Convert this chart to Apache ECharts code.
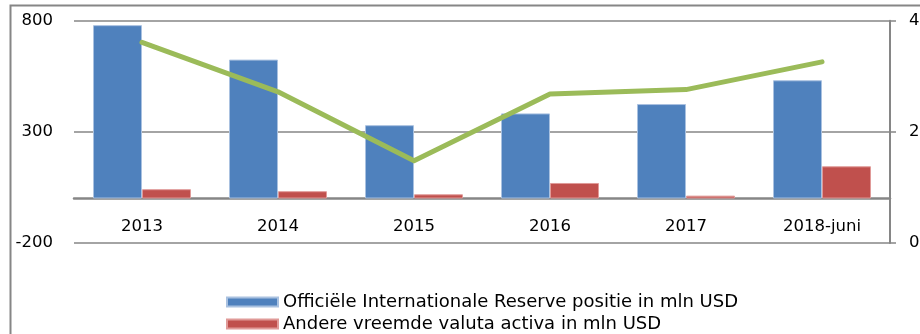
<!DOCTYPE html>
<html>
<head>
<meta charset="utf-8">
<script src="https://cdn.jsdelivr.net/npm/echarts@6/dist/echarts.min.js"></script>
<style>
  html, body { margin: 0; padding: 0; background: #ffffff; }
  #chart { width: 920px; height: 334px; }
</style>
</head>
<body>
<div id="chart"></div>
<script>
// Categories and series values
const categories = ['2013', '2014', '2015', '2016', '2017', '2018-juni'];
const reserveValues = [780, 625, 330, 383, 425, 532];
const otherAssetValues = [42, 33, 19, 70, 13, 145];
const importCoverValues = [3.61, 2.72, 1.48, 2.68, 2.76, 3.26];

const leftTicks = { min: -200, max: 800, interval: 500 };
const rightTicks = { min: 0, max: 4, interval: 2 };

const seriesNames = [
  'Officiële Internationale Reserve positie in mln USD',
  'Andere vreemde valuta activa in mln USD',
  'Importdekking'
];

const FONT = 'DejaVu Sans';
const GREY = '#868686';

// one legend block per bar series, stacked vertically
const legendStyle = (name, top) => ({
  data: [name],
  orient: 'vertical',
  left: 221,
  top: top,
  itemWidth: 51,
  itemHeight: 9,
  icon: 'rect',
  textStyle: { fontFamily: FONT, fontSize: 18, color: '#000000' }
});

const chart = echarts.init(document.getElementById('chart'), null, { renderer: 'canvas' });

chart.setOption({
  animation: false,
  backgroundColor: '#ffffff',
  textStyle: { fontFamily: FONT, color: '#000000' },
  graphic: [
    {
      type: 'rect',
      shape: { x: 10.5, y: 5.5, width: 940, height: 360 },
      style: { fill: 'none', stroke: GREY, lineWidth: 2 },
      silent: true,
      z: -1
    }
  ],
  grid: { left: 74, right: 30, top: 20.7, bottom: 91, containLabel: false, outerBoundsMode: 'none' },
  legend: [
    legendStyle(seriesNames[0], 288),
    legendStyle(seriesNames[1], 310)
  ],
  xAxis: {
    type: 'category',
    data: categories,
    axisLine: { show: true, onZero: true, onZeroAxisIndex: 0, lineStyle: { color: GREY, width: 2.5 } },
    axisTick: { show: false },
    axisLabel: { fontFamily: FONT, fontSize: 16.5, color: '#000000', margin: -25 },
    splitLine: { show: false }
  },
  yAxis: [
    {
      type: 'value',
      min: leftTicks.min,
      max: leftTicks.max,
      interval: leftTicks.interval,
      axisLine: { show: false },
      axisTick: { show: false },
      axisLabel: { fontFamily: FONT, fontSize: 16.5, color: '#000000', margin: 21 },
      splitLine: { show: true, lineStyle: { color: GREY, width: 1.5 } }
    },
    {
      type: 'value',
      position: 'right',
      min: rightTicks.min,
      max: rightTicks.max,
      interval: rightTicks.interval,
      axisLine: { show: true, lineStyle: { color: GREY, width: 2 } },
      axisTick: { show: true, inside: false, length: 6, lineStyle: { color: GREY, width: 1.5 } },
      axisLabel: { fontFamily: FONT, fontSize: 16.5, color: '#000000', margin: 19 },
      splitLine: { show: false }
    }
  ],
  series: [
    {
      name: seriesNames[0],
      type: 'bar',
      yAxisIndex: 0,
      data: reserveValues,
      barWidth: 49,
      barGap: '0%',
      itemStyle: { color: '#4F81BD', borderColor: '#a9c1e0', borderWidth: 1 },
      z: 2
    },
    {
      name: seriesNames[1],
      type: 'bar',
      yAxisIndex: 0,
      data: otherAssetValues,
      barWidth: 49,
      barGap: '0%',
      itemStyle: { color: '#C0504D', borderColor: '#e09a98', borderWidth: 1 },
      z: 2
    },
    {
      name: seriesNames[2],
      type: 'line',
      yAxisIndex: 1,
      data: importCoverValues,
      showSymbol: false,
      symbol: 'none',
      lineStyle: { color: '#9BBB59', width: 5, cap: 'round', join: 'round' },
      itemStyle: { color: '#9BBB59' },
      z: 5
    }
  ]
});
</script>
</body>
</html>
